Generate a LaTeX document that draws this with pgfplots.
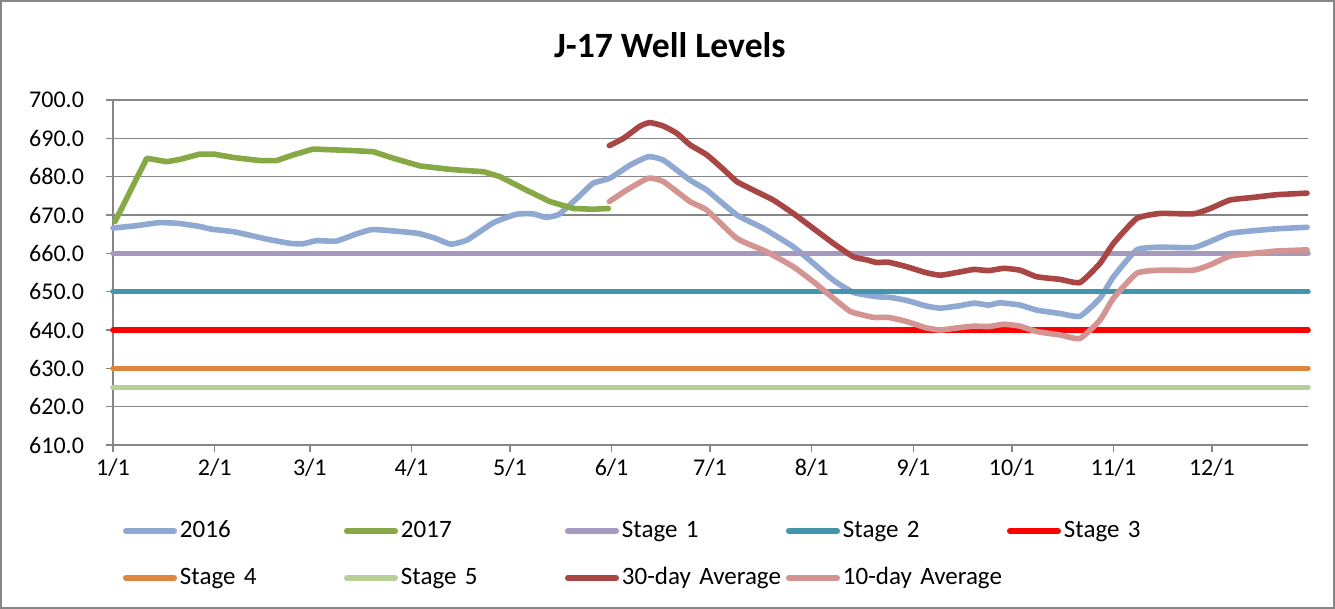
\documentclass[border=0pt]{standalone}
\usepackage{pgfplots}
\pgfplotsset{compat=1.18}
\usepackage{fontspec}
\setmainfont{Carlito}
\definecolor{cA}{HTML}{8FA9D3}
\definecolor{cB}{HTML}{86A845}
\definecolor{cS1}{HTML}{A599BE}
\definecolor{cS2}{HTML}{4295AD}
\definecolor{cS3}{HTML}{FF0000}
\definecolor{cS4}{HTML}{E0853D}
\definecolor{cS5}{HTML}{B8CF98}
\definecolor{cM30}{HTML}{A94542}
\definecolor{cM10}{HTML}{D39492}
\definecolor{gridgray}{HTML}{868686}
\begin{document}
\begin{tikzpicture}
\useasboundingbox (0,0) rectangle (667.5pt,-304.5pt);
\draw[color=gridgray, line width=0.75pt] (0.6pt,-0.6pt) rectangle (666.9pt,-303.9pt);
\begin{axis}[
  at={(56.5pt,-222.5pt)}, anchor=south west,
  scale only axis, width=597.5pt, height=172.5pt,
  xmin=0, xmax=364.3, ymin=610, ymax=700,
  clip=false,
  axis x line*=bottom, axis y line*=left,
  axis line style={-, draw=gridgray, line width=0.75pt},
  ytick={610,620,...,700},
  xtick={0,31,60,91,121,152,182,213,244,274,305,335},
  xticklabels={1/1,2/1,3/1,4/1,5/1,6/1,7/1,8/1,9/1,10/1,11/1,12/1},
  ymajorgrids, grid style={gridgray, line width=0.75pt},
  tick align=outside, major tick length=3.5pt,
  tick style={gridgray, line width=0.75pt},
  /pgf/number format/assume math mode=true,
  yticklabel style={xshift=-7.5pt, /pgf/number format/.cd, fixed, fixed zerofill, precision=1, 1000 sep={}},
  tick label style={font=\fontsize{12}{14}\selectfont},
  title={J-17 Well Levels},
  title style={at={(axis description cs:0.466,1)}, anchor=center, yshift=21.5pt, font=\fontsize{17.8}{21}\selectfont\bfseries},
  every axis plot/.append style={line width=2.8pt, line cap=round, line join=round},
  legend columns=5,
  legend style={at={(axis description cs:0,0)}, anchor=north west, xshift=5pt, yshift=-37pt,
    draw=none, fill=none, inner sep=0pt, outer sep=0pt, column sep=0pt, row sep=11.5pt,
    font=\fontsize{12.5}{14}\selectfont,
    nodes={inner sep=0pt, text width=82pt, align=left, text height=9pt, text depth=3pt},
    /tikz/every odd column/.style={column sep=1.5pt}},
  legend image code/.code={\draw[#1, line cap=round] (1.4pt,0pt) -- (25.6pt,0pt);},
]
\addplot[cA, smooth, tension=0.3] coordinates {
(0,666.6) (7,667.2) (14,668.0) (20,667.8) (26.5,667.0) (30,666.3) (37,665.6) (47,663.7)
(54,662.6) (58,662.5) (62,663.3) (68,663.2) (74,665.0) (79,666.2) (86,665.8) (93,665.2)
(98,664.0) (103,662.4) (108,663.5) (116,668.0) (123,670.2) (128,670.3) (132,669.4) (136,670.2)
(142,674.8) (146.4,678.3) (151.5,679.6) (157.6,683.0) (163.2,685.2) (167.8,684.3) (175.9,679.1)
(181,676.5) (190.2,670.0) (198.3,666.5) (207.4,661.7) (213.5,657.4) (219.6,653.0) (225.7,649.8)
(232.8,648.7) (237,648.5) (242,647.7) (247.7,646.3) (252.2,645.7) (257.9,646.3) (262.5,647.0)
(267,646.5) (270.4,647.1) (276.5,646.5) (281.6,645.2) (288.7,644.3) (294.8,643.6) (300.9,648.3)
(305,653.9) (312.1,660.9) (319.2,661.6) (329.4,661.5) (334.5,663.1) (340.5,665.2) (347.7,665.9)
(354.8,666.4) (364,666.8)};
\addlegendentry{2016}
\addplot[cB] coordinates {
(0.6,668.3) (10.3,684.8) (16.4,683.9) (20.4,684.5) (26.5,685.9) (30.6,685.9) (36.7,685.0)
(44.8,684.2) (49.9,684.2) (55,685.7) (61,687.2) (67.2,687.0) (73.3,686.8) (79.4,686.5)
(85.5,684.8) (93.6,682.8) (101.7,682.0) (105.8,681.7) (112.9,681.3) (118,680.0) (126,676.5)
(133.2,673.5) (140.3,671.7) (146.4,671.5) (151,671.7)};
\addlegendentry{2017}
\addplot[cS1] coordinates {(0,660) (364.3,660)};
\addlegendentry{Stage 1}
\addplot[cS2] coordinates {(0,650) (364.3,650)};
\addlegendentry{Stage 2}
\addplot[cS3] coordinates {(0,640) (364.3,640)};
\addlegendentry{Stage 3}
\addplot[cS4] coordinates {(0,630) (364.3,630)};
\addlegendentry{Stage 4}
\addplot[cS5] coordinates {(0,625) (364.3,625)};
\addlegendentry{Stage 5}
\addplot[cM30, smooth, tension=0.3] coordinates {
(151.3,688.1) (155.6,690.0) (160.7,693.2) (163.7,694.1) (167.8,693.2) (171.9,691.3) (175.9,688.3)
(181,685.7) (186.1,681.9) (190.2,678.7) (195.2,676.5) (201.3,673.9) (207.4,670.4) (213.5,666.5)
(219.6,662.6) (225.7,659.1) (229.8,658.3) (232.8,657.6) (236.3,657.7) (242,656.5) (247.7,655.0)
(252.2,654.3) (257.9,655.1) (262.5,655.8) (267,655.5) (271.6,656.1) (276.5,655.6) (281.6,653.9)
(288.7,653.2) (294.8,652.4) (300.9,657.4) (305,662.6) (312.1,669.1) (319.2,670.4) (329.4,670.3)
(334.5,671.7) (340.5,673.9) (347.7,674.6) (354.8,675.3) (364,675.7)};
\addlegendentry{30-day Average}
\addplot[cM10, smooth, tension=0.3] coordinates {
(151.3,673.5) (156.6,676.5) (163.2,679.6) (167.8,678.7) (175.9,673.5) (181,671.3) (190.2,663.9)
(199.3,660.4) (207.4,656.5) (213.5,652.6) (219.6,648.3) (224.9,644.8) (231.8,643.3) (236.3,643.3)
(242,642.2) (247.7,640.6) (252.2,640.0) (257.9,640.6) (262.5,641.0) (267,640.9) (271.6,641.5)
(276.5,641.0) (281.6,639.6) (288.7,638.7) (294.8,637.8) (300.9,642.6) (305,648.3) (312.1,654.8)
(319.2,655.6) (329.4,655.6) (334.5,657.0) (340.5,659.3) (347.7,660.0) (354.8,660.6) (364,660.9)};
\addlegendentry{10-day Average}
\end{axis}
\end{tikzpicture}
\end{document}
